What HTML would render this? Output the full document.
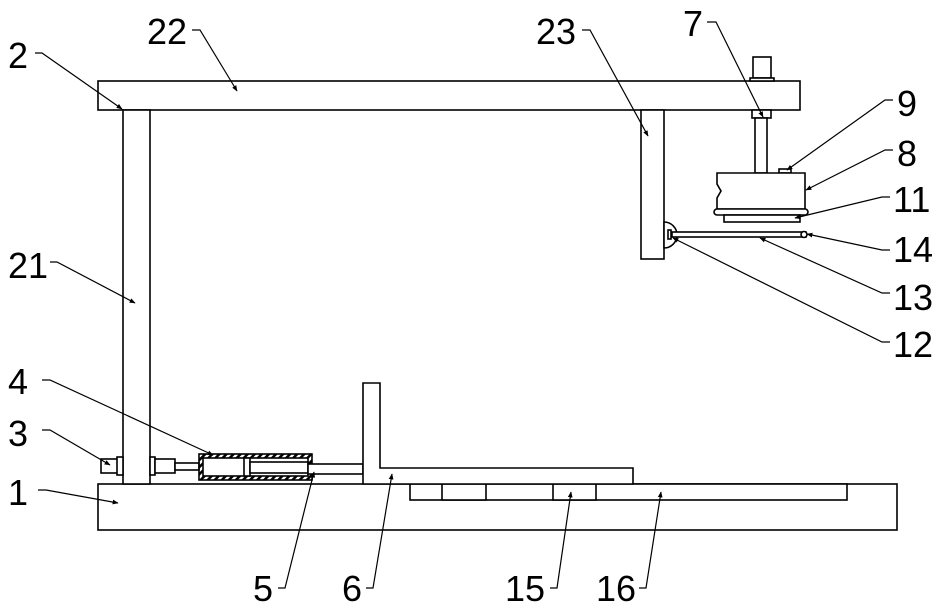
<!DOCTYPE html>
<html><head><meta charset="utf-8"><style>
html,body{margin:0;padding:0;background:#fff;}
svg{display:block;}
text{font-family:"Liberation Sans",sans-serif;font-size:36px;fill:#000;}
</style></head><body>
<svg width="948" height="609" viewBox="0 0 948 609" xmlns="http://www.w3.org/2000/svg">
<defs>
<marker id="a" viewBox="0 0 10 10" refX="9" refY="5" markerWidth="5" markerHeight="5" orient="auto"><path d="M0,1 L10,5 L0,9 z" fill="#000"/></marker>
<pattern id="h" width="5" height="5" patternUnits="userSpaceOnUse" patternTransform="rotate(45)"><rect width="2.5" height="5" fill="#000"/></pattern>
</defs>
<g fill="#fff" stroke="#000" stroke-width="1.6">
<rect x="98" y="484" width="799" height="46"/>
<rect x="410" y="484" width="437" height="16"/>
<rect x="442" y="484" width="44" height="16"/>
<rect x="553" y="484" width="43" height="16"/>
<rect x="98" y="81" width="702" height="29"/>
<rect x="123" y="110" width="27" height="374"/>
<rect x="641" y="110" width="23" height="149"/>
<rect x="753" y="57" width="18" height="21"/>
<rect x="750" y="78" width="24" height="3"/>
<rect x="752" y="110" width="19" height="8"/>
<rect x="755" y="118" width="12" height="55"/>
<rect x="779" y="169" width="12" height="4"/>
<path d="M717,173 H805 V209 H717 V198 L721,191 L717,184 Z"/>
<rect x="714" y="209" width="94" height="6" rx="3"/>
<rect x="724" y="215" width="76" height="7"/>
<path d="M664,222 A13,13 0 0 1 664,248 Z"/>
<rect x="668" y="230" width="3" height="9"/>
<rect x="672" y="232" width="134" height="5"/>
<circle cx="804" cy="234.5" r="3"/>
<rect x="101" y="459" width="18" height="14"/>
<rect x="117" y="457" width="6" height="18"/>
<rect x="150" y="457" width="5" height="18"/>
<rect x="155" y="459" width="20" height="14"/>
<rect x="175" y="463" width="24" height="7"/>
<rect x="199" y="454" width="113" height="26" fill="url(#h)"/>
<rect x="203" y="458" width="105" height="18"/>
<rect x="244" y="458" width="6" height="18"/>
<rect x="250" y="462" width="58" height="11"/>
<rect x="308" y="464" width="55" height="10"/>
<path d="M363,383 H380 V468 H633 V484 H363 Z"/>
</g>
<g stroke="#000" stroke-width="1.2" fill="none">
<path d="M35,53 H42 L122,109" marker-end="url(#a)"/>
<path d="M192,30 H200 L237,91" marker-end="url(#a)"/>
<path d="M582,30 H590 L648,136" marker-end="url(#a)"/>
<path d="M707,22 H716 L763,117" marker-end="url(#a)"/>
<path d="M893,100 H885 L787,170" marker-end="url(#a)"/>
<path d="M893,150 H885 L806,190" marker-end="url(#a)"/>
<path d="M890,197 H882 L795,218" marker-end="url(#a)"/>
<path d="M890,250 H882 L807,234" marker-end="url(#a)"/>
<path d="M890,293 H882 L760,238" marker-end="url(#a)"/>
<path d="M890,342 H882 L673,238" marker-end="url(#a)"/>
<path d="M50,262 H57 L135,303" marker-end="url(#a)"/>
<path d="M42,380 H50 L213,455" marker-end="url(#a)"/>
<path d="M42,430 H50 L110,465" marker-end="url(#a)"/>
<path d="M38,490 H46 L118,503" marker-end="url(#a)"/>
<path d="M278,588 H285 L314,472" marker-end="url(#a)"/>
<path d="M366,588 H373 L392,474" marker-end="url(#a)"/>
<path d="M550,588 H557 L571,492" marker-end="url(#a)"/>
<path d="M639,588 H646 L661,492" marker-end="url(#a)"/>
</g>
<text x="8" y="68">2</text>
<text x="147" y="44">22</text>
<text x="536" y="44">23</text>
<text x="683" y="36">7</text>
<text x="897" y="116">9</text>
<text x="897" y="166">8</text>
<text x="893" y="212">11</text>
<text x="893" y="262">14</text>
<text x="893" y="310">13</text>
<text x="893" y="357">12</text>
<text x="8" y="278">21</text>
<text x="8" y="394">4</text>
<text x="8" y="446">3</text>
<text x="8" y="505">1</text>
<text x="253" y="601">5</text>
<text x="342" y="601">6</text>
<text x="505" y="601">15</text>
<text x="596" y="601">16</text>
</svg>
</body></html>
